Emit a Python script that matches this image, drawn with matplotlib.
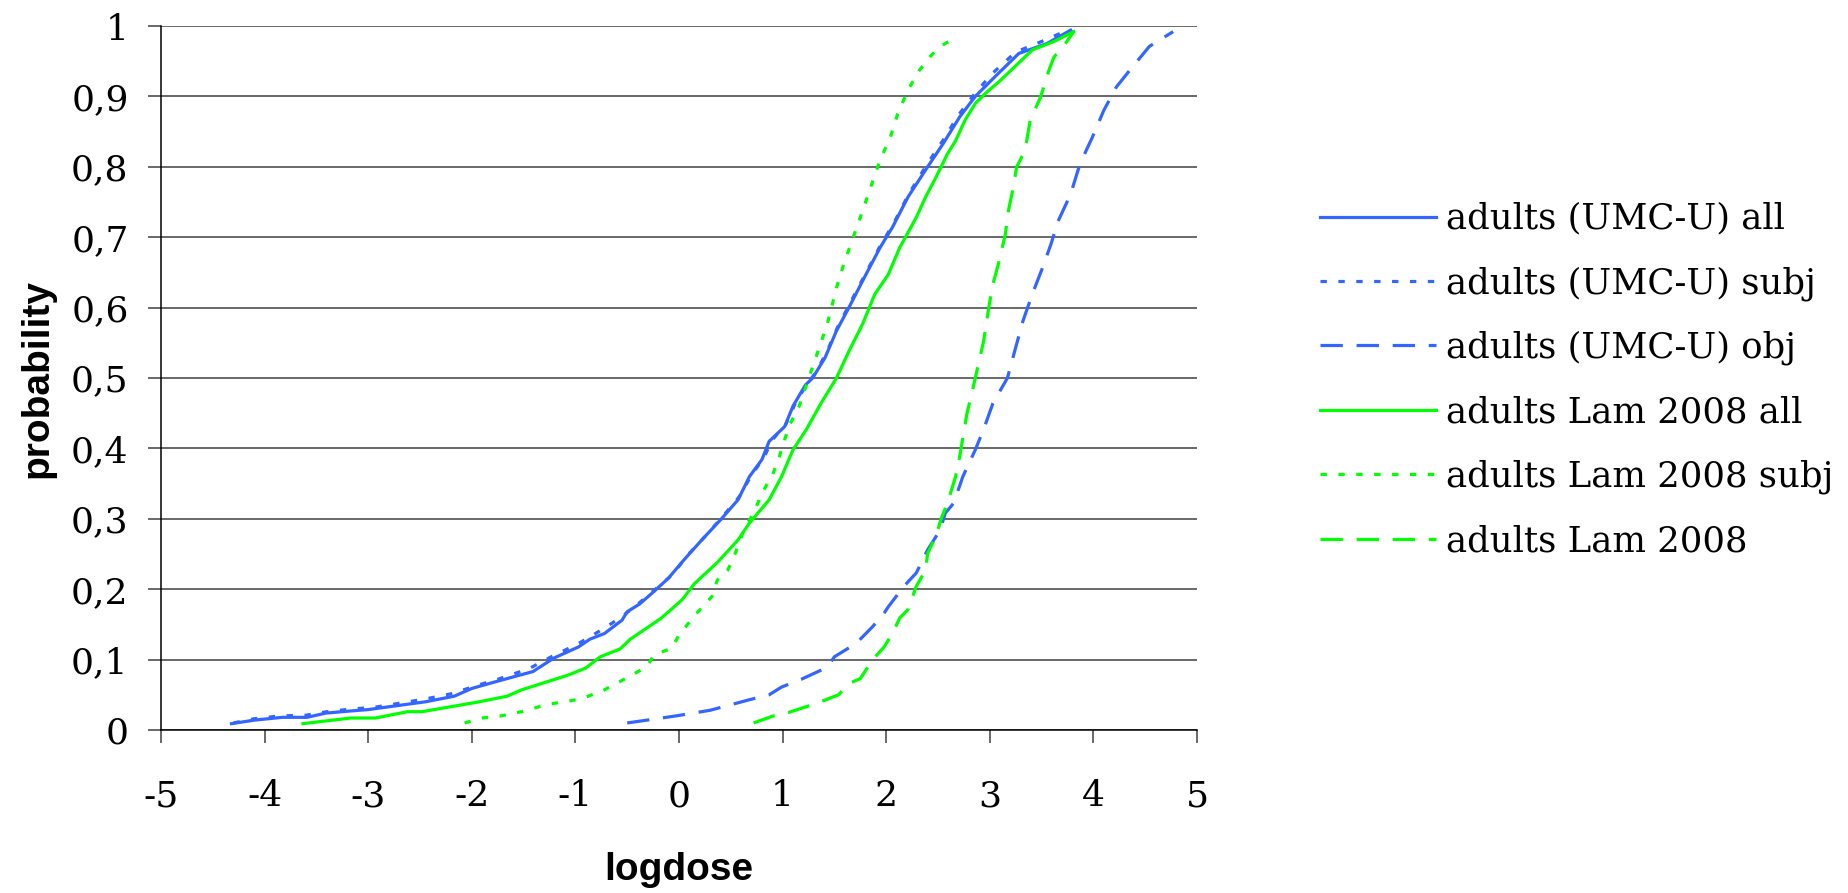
import matplotlib
matplotlib.use("Agg")
import matplotlib.pyplot as plt

# courbes (logdose, probabilite)
umc_all_x = [-4.32, -4.10, -3.83, -3.59, -3.41, -3.17, -3.00, -2.45, -2.17, -2.00, -1.76, -1.41,
             -1.21, -0.97, -0.86, -0.72, -0.55, -0.50, -0.38, -0.24, -0.10, 0.05, 0.22, 0.41,
             0.57, 0.68, 0.80, 0.87, 1.02, 1.10, 1.22, 1.29, 1.41, 1.52, 1.64, 1.79, 1.94,
             2.06, 2.21, 2.40, 2.55, 2.71, 2.86, 3.05, 3.28, 3.55, 3.78]
umc_all_y = [0.009, 0.014, 0.018, 0.018, 0.024, 0.027, 0.029, 0.040, 0.048, 0.059, 0.069, 0.083,
             0.102, 0.118, 0.129, 0.137, 0.156, 0.168, 0.179, 0.197, 0.216, 0.242, 0.270, 0.300,
             0.327, 0.360, 0.384, 0.410, 0.431, 0.460, 0.490, 0.500, 0.529, 0.567, 0.600, 0.643,
             0.685, 0.714, 0.757, 0.800, 0.833, 0.871, 0.900, 0.928, 0.961, 0.975, 0.994]

umc_subj_x = [-4.30, -4.10, -3.85, -3.60, -3.40, -3.15, -2.95, -2.70, -2.45, -2.18, -1.98, -1.75,
              -1.45, -1.22, -0.98, -0.75, -0.55, -0.38, -0.22, -0.06, 0.08, 0.24, 0.42, 0.58,
              0.70, 0.82, 0.90, 1.03, 1.12, 1.22, 1.32, 1.42, 1.53, 1.65, 1.80, 1.95, 2.07,
              2.22, 2.40, 2.55, 2.70, 2.85, 3.02, 3.25, 3.50, 3.75]
umc_subj_y = [0.010, 0.016, 0.020, 0.021, 0.026, 0.030, 0.032, 0.038, 0.044, 0.052, 0.062, 0.072,
              0.087, 0.105, 0.122, 0.142, 0.161, 0.181, 0.201, 0.221, 0.248, 0.273, 0.303, 0.331,
              0.362, 0.387, 0.412, 0.434, 0.463, 0.488, 0.508, 0.535, 0.572, 0.606, 0.648, 0.690,
              0.719, 0.762, 0.805, 0.838, 0.874, 0.903, 0.932, 0.963, 0.978, 0.994]

umc_obj_x = [-0.50, -0.31, -0.03, 0.30, 0.68, 0.87, 0.99, 1.18, 1.43, 1.50, 1.71, 1.87, 1.98,
             2.02, 2.17, 2.29, 2.40, 2.52, 2.57, 2.65, 2.74, 2.86, 2.94, 3.03, 3.17, 3.24, 3.32,
             3.41, 3.51, 3.59, 3.66, 3.78, 3.87, 3.99, 4.10, 4.22, 4.35, 4.54, 4.77]
umc_obj_y = [0.010, 0.014, 0.020, 0.028, 0.043, 0.050, 0.061, 0.072, 0.089, 0.104, 0.123, 0.147,
             0.166, 0.175, 0.204, 0.223, 0.256, 0.284, 0.308, 0.322, 0.360, 0.398, 0.427, 0.464,
             0.500, 0.538, 0.581, 0.619, 0.657, 0.690, 0.723, 0.761, 0.804, 0.842, 0.880, 0.913,
             0.937, 0.971, 0.992]

lam_all_x = [-3.63, -3.17, -2.93, -2.62, -2.48, -1.93, -1.66, -1.52, -1.07, -0.90, -0.76, -0.57,
             -0.47, -0.17, 0.03, 0.15, 0.37, 0.57, 0.68, 0.87, 0.99, 1.10, 1.23, 1.37, 1.52,
             1.64, 1.77, 1.89, 2.02, 2.13, 2.29, 2.38, 2.48, 2.59, 2.67, 2.76, 2.86, 2.97, 3.09,
             3.24, 3.41, 3.62, 3.81]
lam_all_y = [0.009, 0.017, 0.017, 0.026, 0.026, 0.040, 0.048, 0.057, 0.078, 0.088, 0.104, 0.115,
             0.129, 0.159, 0.185, 0.208, 0.238, 0.270, 0.294, 0.327, 0.360, 0.398, 0.427, 0.464,
             0.500, 0.538, 0.576, 0.619, 0.647, 0.685, 0.728, 0.757, 0.785, 0.818, 0.837, 0.866,
             0.890, 0.906, 0.921, 0.942, 0.966, 0.978, 0.992]

lam_subj_x = [-2.07, -1.90, -1.72, -1.52, -1.28, -1.03, -0.93, -0.72, -0.48, -0.31, -0.24, -0.07,
              0.00, 0.16, 0.32, 0.37, 0.47, 0.53, 0.64, 0.72, 0.80, 0.91, 0.97, 1.06, 1.16,
              1.23, 1.33, 1.43, 1.52, 1.58, 1.67, 1.75, 1.85, 1.94, 2.04, 2.11, 2.21, 2.32,
              2.42, 2.52, 2.69]
lam_subj_y = [0.010, 0.017, 0.020, 0.026, 0.036, 0.042, 0.045, 0.057, 0.076, 0.090, 0.107, 0.116,
              0.135, 0.164, 0.190, 0.213, 0.227, 0.246, 0.289, 0.308, 0.336, 0.365, 0.389, 0.431,
              0.460, 0.490, 0.533, 0.576, 0.628, 0.657, 0.695, 0.728, 0.771, 0.809, 0.842, 0.875,
              0.909, 0.937, 0.956, 0.971, 0.985]

lam_obj_x = [0.72, 0.91, 1.06, 1.33, 1.54, 1.64, 1.75, 1.87, 1.98, 2.06, 2.13, 2.21, 2.29, 2.38,
             2.40, 2.48, 2.53, 2.59, 2.67, 2.71, 2.78, 2.82, 2.86, 2.94, 2.99, 3.03, 3.09, 3.15,
             3.18, 3.22, 3.26, 3.34, 3.39, 3.49, 3.57, 3.62, 3.72, 3.81]
lam_obj_y = [0.010, 0.020, 0.025, 0.038, 0.050, 0.066, 0.073, 0.100, 0.118, 0.137, 0.159, 0.171,
             0.204, 0.227, 0.251, 0.275, 0.300, 0.322, 0.360, 0.389, 0.450, 0.474, 0.500, 0.552,
             0.600, 0.633, 0.666, 0.704, 0.738, 0.766, 0.800, 0.823, 0.866, 0.899, 0.937, 0.956,
             0.973, 0.992]

labels = ["adults (UMC-U) all", "adults (UMC-U) subj", "adults (UMC-U) obj",
          "adults Lam 2008 all", "adults Lam 2008 subj", "adults Lam 2008"]
yticks = [0, 0.1, 0.2, 0.3, 0.4, 0.5, 0.6, 0.7, 0.8, 0.9, 1]
ytick_labels = ["0", "0,1", "0,2", "0,3", "0,4", "0,5", "0,6", "0,7", "0,8", "0,9", "1"]
xticks = [-5, -4, -3, -2, -1, 0, 1, 2, 3, 4, 5]

blue = "#3366FF"
green = "#00FF00"
dotted = (0, (2, 3.6))
dashed = (0, (7, 4.3))
serif = "DejaVu Serif"
sans = "Liberation Sans"

W, H = 1848, 893
fig = plt.figure(figsize=(W / 100, H / 100), dpi=100)
ax = fig.add_axes([161 / W, 1 - 730 / H, (1197 - 161) / W, (730 - 26) / H])

lw = 2.3
ax.plot(umc_all_x, umc_all_y, color=blue, lw=lw, label=labels[0])
ax.plot(umc_subj_x, umc_subj_y, color=blue, lw=lw, ls=dotted, label=labels[1])
ax.plot(umc_obj_x, umc_obj_y, color=blue, lw=lw, ls=dashed, label=labels[2])
ax.plot(lam_all_x, lam_all_y, color=green, lw=lw, label=labels[3])
ax.plot(lam_subj_x, lam_subj_y, color=green, lw=lw, ls=dotted, label=labels[4])
ax.plot(lam_obj_x, lam_obj_y, color=green, lw=lw, ls=dashed, label=labels[5])

ax.set_xlim(-5, 5)
ax.set_ylim(0, 1)
ax.set_xticks(xticks)
ax.set_xticklabels([str(v) for v in xticks], family=serif, fontsize=26)
ax.set_yticks(yticks)
ax.set_yticklabels(ytick_labels, family=serif, fontsize=26)
ax.tick_params(axis="x", direction="out", length=9.4, width=1.1, color="#404040", pad=26)
ax.tick_params(axis="y", direction="out", length=9.4, width=1.1, color="#404040", pad=14)

ax.yaxis.grid(True, color="#404040", lw=1.1)
ax.set_axisbelow(True)
for s in ["top", "right"]:
    ax.spines[s].set_visible(False)
for s in ["left", "bottom"]:
    ax.spines[s].set_color("black")
    ax.spines[s].set_linewidth(1.1)

fig.text(679 / W, 1 - 870 / H, "logdose", family=sans, weight="bold", fontsize=28,
         ha="center", va="center")
fig.text(37 / W, 1 - 378 / H, "probability", family=sans, weight="bold", fontsize=28,
         ha="center", va="center", rotation=90)

leg = ax.legend(loc="center left", bbox_to_anchor=(1320 / W, 1 - 380 / H),
                bbox_transform=fig.transFigure, frameon=False, borderpad=0,
                borderaxespad=0, handlelength=3.28, handletextpad=0.28, labelspacing=0.85,
                prop={"family": serif, "size": 25.5})

fig.savefig("out.png", dpi=100)
